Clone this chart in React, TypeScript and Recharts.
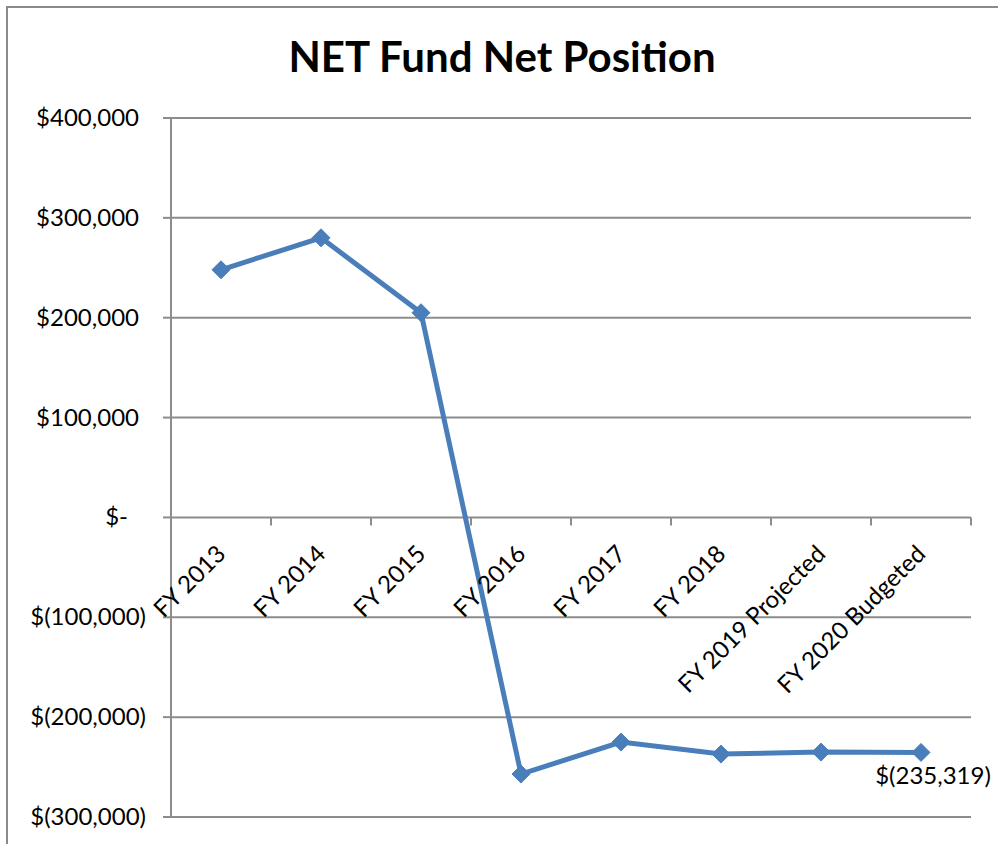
import { LineChart, Line, XAxis, YAxis, CartesianGrid, LabelList } from "recharts";

const categories = [
  "FY 2013",
  "FY 2014",
  "FY 2015",
  "FY 2016",
  "FY 2017",
  "FY 2018",
  "FY 2019 Projected",
  "FY 2020 Budgeted",
];
const netPosition = [248000, 280000, 205000, -257000, -225000, -237000, -235000, -235319];
const yTicks = [-300000, -200000, -100000, 0, 100000, 200000, 300000, 400000];

const W = 998;
const H = 844;
const PLOT_LEFT = 171;
const PLOT_RIGHT = 971;
const PLOT_TOP = 118;
const PLOT_BOTTOM = 817;
const Y_MIN = -300000;
const Y_MAX = 400000;

const BLUE = "#4A7EBB";
const GRID = "#8c8c8c";
const FONT = "Lato, 'Open Sans', sans-serif";

const data = categories.map((name, i) => ({ name, value: netPosition[i] }));

function money(v: number): string {
  if (v === 0) return "$-";
  const s = Math.abs(v).toLocaleString("en-US");
  return v < 0 ? `$(${s})` : `$${s}`;
}

// y of the zero line, from the same domain the y axis uses
const zeroY = PLOT_TOP + ((PLOT_BOTTOM - PLOT_TOP) * Y_MAX) / (Y_MAX - Y_MIN);
const band = (PLOT_RIGHT - PLOT_LEFT) / categories.length;

function YTick(props: any) {
  const { y, payload } = props;
  const v = payload.value as number;
  const endX = v === 0 ? 128 : v < 0 ? 146 : 139;
  return (
    <text x={endX} y={y} dy={8} textAnchor="end" fontSize={24} fill="#000" fontFamily={FONT}>
      {money(v)}
    </text>
  );
}

function XTick(props: any) {
  const { x, payload, index } = props;
  const last = index === categories.length - 1;
  const tx = x + 6;
  const ty = zeroY + 38;
  return (
    <g>
      <line x1={x - band / 2} x2={x - band / 2} y1={zeroY} y2={zeroY + 8} stroke={GRID} strokeWidth={2} />
      {last && (
        <line x1={x + band / 2} x2={x + band / 2} y1={zeroY} y2={zeroY + 8} stroke={GRID} strokeWidth={2} />
      )}
      <text
        x={tx}
        y={ty}
        textAnchor="end"
        fontSize={24}
        fill="#000"
        fontFamily={FONT}
        transform={`rotate(-45 ${tx} ${ty})`}
      >
        {payload.value}
      </text>
    </g>
  );
}

function Diamond(props: any) {
  const { cx, cy } = props;
  if (cx == null || cy == null) return null;
  const r = 9;
  return (
    <polygon
      points={`${cx},${cy - r} ${cx + r},${cy} ${cx},${cy + r} ${cx - r},${cy}`}
      fill={BLUE}
      stroke={BLUE}
      strokeWidth={1}
    />
  );
}

function LastLabel(props: any) {
  const { x, y, index, value } = props;
  if (index !== netPosition.length - 1) return null;
  return (
    <text x={x + 12} y={y + 32} textAnchor="middle" fontSize={24} fill="#000" fontFamily={FONT}>
      {money(value)}
    </text>
  );
}

export default function App() {
  return (
    <div style={{ position: "fixed", left: 0, top: 0, width: W, height: H, overflow: "hidden", background: "#fff" }}>
      <div
        style={{
          position: "absolute",
          left: 6,
          top: 6,
          width: W + 100,
          height: H + 100,
          border: "2px solid #8a8a8a",
        }}
      />
      <div style={{ position: "absolute", left: 0, top: 0 }}>
        <LineChart
          width={W}
          height={H}
          data={data}
          margin={{ top: PLOT_TOP, right: W - PLOT_RIGHT, left: 0, bottom: 0 }}
        >
          <CartesianGrid horizontal vertical={false} stroke={GRID} strokeWidth={2} />
          <XAxis
            dataKey="name"
            type="category"
            interval={0}
            padding={{ left: band / 2, right: band / 2 }}
            axisLine={false}
            tickLine={false}
            height={H - PLOT_BOTTOM}
            tick={<XTick />}
          />
          <YAxis
            width={PLOT_LEFT}
            domain={[Y_MIN, Y_MAX]}
            ticks={yTicks}
            interval={0}
            axisLine={{ stroke: GRID, strokeWidth: 2 }}
            tickLine={{ stroke: GRID, strokeWidth: 2 }}
            tickSize={8}
            tick={<YTick />}
          />
          <Line
            type="linear"
            dataKey="value"
            stroke={BLUE}
            strokeWidth={5}
            dot={<Diamond />}
            activeDot={false}
            isAnimationActive={false}
          >
            <LabelList dataKey="value" content={<LastLabel />} />
          </Line>
        </LineChart>
      </div>
      <svg width={W} height={H} style={{ position: "absolute", left: 0, top: 0, pointerEvents: "none" }}>
        <text x={502} y={72} textAnchor="middle" fontSize={42} fontWeight={700} fill="#000" fontFamily={FONT}>
          NET Fund Net Position
        </text>
      </svg>
    </div>
  );
}
